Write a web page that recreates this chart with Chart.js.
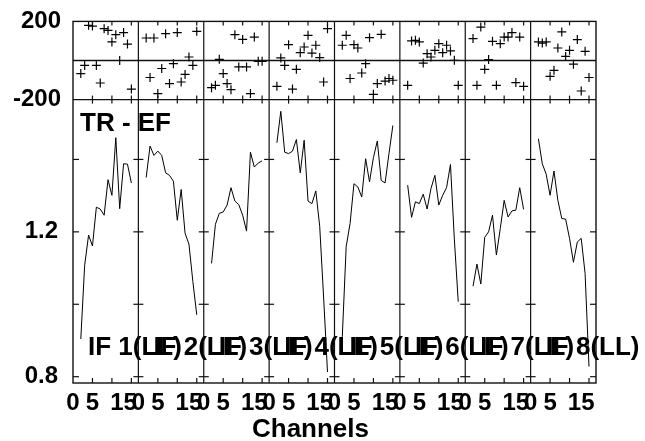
<!DOCTYPE html>
<html>
<head>
<meta charset="utf-8">
<script src="https://cdn.jsdelivr.net/npm/chart.js@4"></script>
<style>
  html, body { margin: 0; padding: 0; background: #fff; }
  #wrap { width: 645px; height: 441px; }
</style>
</head>
<body>
<div id="wrap"><canvas id="c"></canvas></div>
<script>
// channels plotted in every IF panel
const channels = [2, 3, 4, 5, 6, 7, 8, 9, 10, 11, 12, 13, 14, 15];
const ifLabels = ['IF 1(LL)', 'IF 2(LL)', 'IF 3(LL)', 'IF 4(LL)', 'IF 5(LL)', 'IF 6(LL)', 'IF 7(LL)', 'IF 8(LL)'];

// amplitude ratio TR - EF, one row per IF
const ratioIF = [
  [0.904, 1.108, 1.191, 1.161, 1.268, 1.263, 1.246, 1.344, 1.301, 1.460, 1.264, 1.388, 1.387, 1.335],
  [1.350, 1.437, 1.411, 1.423, 1.411, 1.363, 1.356, 1.340, 1.232, 1.317, 1.196, 1.166, 1.063, 0.971],
  [1.113, 1.221, 1.251, 1.255, 1.274, 1.322, 1.285, 1.275, 1.246, 1.202, 1.420, 1.379, 1.390, 1.396],
  [1.446, 1.533, 1.420, 1.416, 1.423, 1.455, 1.363, 1.453, 1.285, 1.278, 1.313, 1.215, 1.020, 0.813],
  [0.910, 1.159, 1.223, 1.333, 1.324, 1.296, 1.402, 1.338, 1.405, 1.451, 1.342, 1.335, 1.416, 1.494],
  [1.329, 1.240, 1.283, 1.278, 1.304, 1.263, 1.320, 1.356, 1.274, 1.301, 1.322, 1.386, 1.180, 1.007],
  [1.050, 1.111, 1.056, 1.185, 1.200, 1.246, 1.136, 1.209, 1.287, 1.241, 1.258, 1.260, 1.322, 1.262],
  [1.457, 1.388, 1.359, 1.301, 1.368, 1.287, 1.237, 1.235, 1.182, 1.116, 1.172, 1.182, 1.085, 0.828]
];

// phase residuals (top strip), one row per IF
const residIF = [
  [-67, -25, 180, 176, -25, -115, 163, 154, 95, 132, 0, 143, 84, -146],
  [115, -87, 115, -169, -41, 137, -118, -16, 143, -110, -71, 18, -25, 149],
  [-139, -127, 6, -67, -118, -149, 132, -33, 108, -33, -169, 120, -4, -4],
  [-132, 13, -25, 81, -146, -45, 40, 69, 129, 38, 78, 15, -110, 163],
  [78, 129, -92, 81, 64, -64, -16, 117, -173, -118, 134, -105, -92, -101],
  [-127, 100, 103, 95, -13, 35, 18, 52, 86, 40, 78, 49, 1, -127],
  [112, -127, 171, -45, 5, 98, -127, 86, 120, 120, 143, -113, 120, -132],
  [95, 89, 95, -81, -50, 64, 146, 21, 52, -19, 107, -156, 47, -87]
];

const xTickLabels = ['0', '5', '15'];
const xTickLabelAt = [0, 5, 13];
const xTickMarks = [5, 10, 15];
const ratioTicks = [0.8, 1.0, 1.2, 1.4];
const ratioLabels = [0.8, 1.2];
const residLabels = [200, -200];

const FONT = '"Liberation Sans", Arial, sans-serif';
const SPAN = 16.8;   // channel range shown per panel

const scales = {
  yb: {
    position: 'left', stack: 'v', stackWeight: 283.7,
    min: 0.7826, max: 1.5652,
    afterBuildTicks: s => { s.ticks = ratioLabels.map(v => ({ value: v })); },
    afterFit: s => { s.width = 73; },
    ticks: { color: '#000', padding: 7, font: { family: FONT, size: 24, weight: 'bold' }, callback: v => v.toFixed(1) },
    grid: { display: false }, border: { display: false }
  },
  yt: {
    position: 'left', stack: 'v', stackWeight: 78.3,
    min: -200, max: 200,
    afterBuildTicks: s => { s.ticks = residLabels.map(v => ({ value: v })); },
    afterFit: s => { s.width = 73; },
    ticks: { color: '#000', padding: 4, font: { family: FONT, size: 24, weight: 'bold' }, callback: v => String(v) },
    grid: { display: false }, border: { display: false }
  }
};
ifLabels.forEach((_, i) => {
  scales['x' + i] = {
    type: 'linear', position: 'bottom', stack: 'h', stackWeight: 1,
    min: 0, max: SPAN,
    afterBuildTicks: s => { s.ticks = xTickLabelAt.map(v => ({ value: v })); },
    afterFit: s => { s.height = 58; },
    ticks: { autoSkip: false, maxRotation: 0, color: '#000', padding: -2,
             font: { family: FONT, size: 24, weight: 'bold' },
             callback: (v, k) => xTickLabels[k] },
    grid: { display: false }, border: { display: false }
  };
});

const datasets = [];
ratioIF.forEach((r, i) => {
  datasets.push({
    data: channels.map((c, k) => ({ x: c, y: r[k] })),
    xAxisID: 'x' + i, yAxisID: 'yb',
    showLine: true, borderColor: '#000', borderWidth: 1, pointRadius: 0, tension: 0
  });
  datasets.push({
    data: channels.map((c, k) => ({ x: c, y: residIF[i][k] })),
    xAxisID: 'x' + i, yAxisID: 'yt',
    pointStyle: 'cross', pointRadius: 4.5, borderColor: '#000', borderWidth: 1.2
  });
});

function seg(ctx, x1, y1, x2, y2) {
  ctx.beginPath();
  ctx.moveTo(x1, y1);
  ctx.lineTo(x2, y2);
  ctx.stroke();
}

// texts inside the plot, drawn under the frame lines
const panelText = {
  id: 'panelText',
  beforeDatasetsDraw(chart) {
    const { ctx, chartArea: a, scales: s } = chart;
    ctx.save();
    ctx.fillStyle = '#000';
    ctx.textBaseline = 'alphabetic';
    ctx.font = 'bold 26px ' + FONT;
    ctx.fillText('TR - EF', a.left + 7, s.yb.top + 31);
    ifLabels.forEach((t, i) => ctx.fillText(t, s['x' + i].left + 15, a.bottom - 28));
    ctx.textAlign = 'center';
    ctx.fillText('Channels', (a.left + a.right) / 2 - 24, chart.height - 4);
    ctx.restore();
  }
};

// frame, panel dividers and inward tick marks
const panelFrame = {
  id: 'panelFrame',
  afterDatasetsDraw(chart) {
    const { ctx, chartArea: a, scales: s } = chart;
    const yt = s.yt, yb = s.yb;
    ctx.save();
    ctx.strokeStyle = '#111';
    ctx.lineWidth = 1.4;
    ctx.strokeRect(a.left, a.top, a.right - a.left, a.bottom - a.top);
    seg(ctx, a.left, yt.bottom, a.right, yt.bottom);
    const y0 = yt.getPixelForValue(0);
    seg(ctx, a.left, y0, a.right, y0);
    ctx.lineWidth = 1.2;
    ifLabels.forEach((_, i) => {
      const x = s['x' + i];
      if (i > 0) seg(ctx, x.left, a.top, x.left, a.bottom);
      xTickMarks.forEach(c => {
        const px = x.getPixelForValue(c);
        seg(ctx, px, a.top, px, a.top + 4);
        seg(ctx, px, yt.bottom - 4, px, yt.bottom + 4);
        seg(ctx, px, a.bottom - 5, px, a.bottom);
      });
      ratioTicks.forEach(v => {
        const py = yb.getPixelForValue(v);
        if (i === 0) seg(ctx, x.left, py, x.left + 6, py);
        else seg(ctx, x.left - 5, py, x.left + 5, py);
        if (i === ifLabels.length - 1) seg(ctx, x.right - 6, py, x.right, py);
      });
    });
    ctx.restore();
  }
};

new Chart(document.getElementById('c'), {
  type: 'scatter',
  data: { datasets },
  options: {
    responsive: true,
    maintainAspectRatio: false,
    animation: false,
    layout: { padding: { top: 21, right: 49, bottom: 0, left: 0 } },
    plugins: { legend: { display: false }, tooltip: { enabled: false } },
    scales
  },
  plugins: [panelText, panelFrame]
});
</script>
</body>
</html>
